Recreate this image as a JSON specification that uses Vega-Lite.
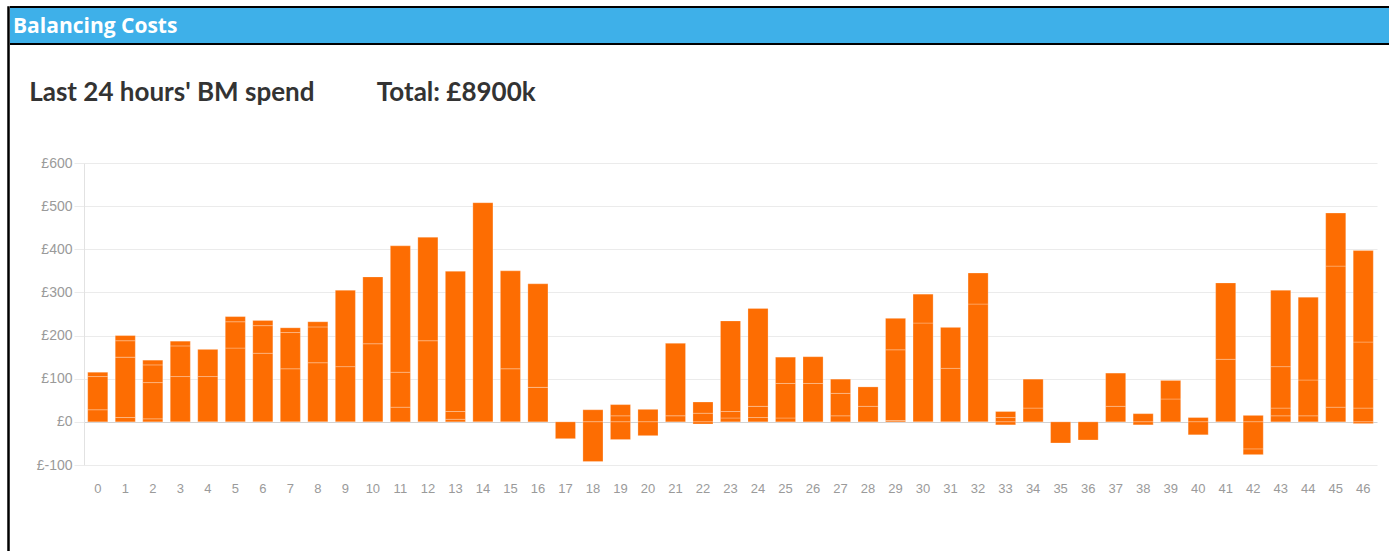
{
  "$schema": "https://vega.github.io/schema/vega-lite/v6.json",
  "background": "white",
  "padding": {"left": 7, "top": 6, "right": 0, "bottom": 0},
  "spacing": -3,
  "config": {"view": {"stroke": null}},
  "datasets": {
    "bm": [
      {"p":0,"s":1,"v":28},{"p":0,"s":2,"v":77},{"p":0,"s":3,"v":10},
      {"p":1,"s":1,"v":10},{"p":1,"s":2,"v":140},{"p":1,"s":3,"v":38},{"p":1,"s":4,"v":12},
      {"p":2,"s":1,"v":7},{"p":2,"s":2,"v":84},{"p":2,"s":3,"v":41},{"p":2,"s":4,"v":11},
      {"p":3,"s":1,"v":105},{"p":3,"s":2,"v":71},{"p":3,"s":3,"v":11},
      {"p":4,"s":1,"v":105},{"p":4,"s":2,"v":63},
      {"p":5,"s":1,"v":171},{"p":5,"s":2,"v":61},{"p":5,"s":3,"v":12},
      {"p":6,"s":1,"v":159},{"p":6,"s":2,"v":64},{"p":6,"s":3,"v":12},
      {"p":7,"s":1,"v":123},{"p":7,"s":2,"v":84},{"p":7,"s":3,"v":11},
      {"p":8,"s":1,"v":137},{"p":8,"s":2,"v":83},{"p":8,"s":3,"v":12},
      {"p":9,"s":1,"v":128},{"p":9,"s":2,"v":177},
      {"p":10,"s":1,"v":181},{"p":10,"s":2,"v":155},
      {"p":11,"s":1,"v":34},{"p":11,"s":2,"v":81},{"p":11,"s":3,"v":293},
      {"p":12,"s":1,"v":188},{"p":12,"s":2,"v":240},
      {"p":13,"s":1,"v":6},{"p":13,"s":2,"v":18},{"p":13,"s":3,"v":325},
      {"p":14,"s":1,"v":508},
      {"p":15,"s":1,"v":123},{"p":15,"s":2,"v":227},
      {"p":16,"s":1,"v":80},{"p":16,"s":2,"v":240},
      {"p":17,"s":1,"v":-39},
      {"p":18,"s":1,"v":28},{"p":18,"s":2,"v":-92},
      {"p":19,"s":1,"v":14},{"p":19,"s":2,"v":26},{"p":19,"s":3,"v":-41},
      {"p":20,"s":1,"v":29},{"p":20,"s":2,"v":-32},
      {"p":21,"s":1,"v":14},{"p":21,"s":2,"v":168},
      {"p":22,"s":1,"v":20},{"p":22,"s":2,"v":26},{"p":22,"s":3,"v":-5},
      {"p":23,"s":1,"v":9},{"p":23,"s":2,"v":15},{"p":23,"s":3,"v":210},
      {"p":24,"s":1,"v":10},{"p":24,"s":2,"v":26},{"p":24,"s":3,"v":227},
      {"p":25,"s":1,"v":9},{"p":25,"s":2,"v":80},{"p":25,"s":3,"v":61},
      {"p":26,"s":1,"v":89},{"p":26,"s":2,"v":62},
      {"p":27,"s":1,"v":14},{"p":27,"s":2,"v":52},{"p":27,"s":3,"v":33},
      {"p":28,"s":1,"v":36},{"p":28,"s":2,"v":45},
      {"p":29,"s":1,"v":3},{"p":29,"s":2,"v":164},{"p":29,"s":3,"v":73},
      {"p":30,"s":1,"v":229},{"p":30,"s":2,"v":67},
      {"p":31,"s":1,"v":124},{"p":31,"s":2,"v":95},
      {"p":32,"s":1,"v":273},{"p":32,"s":2,"v":72},
      {"p":33,"s":1,"v":10},{"p":33,"s":2,"v":14},{"p":33,"s":3,"v":-7},
      {"p":34,"s":1,"v":32},{"p":34,"s":2,"v":67},
      {"p":35,"s":1,"v":-49},
      {"p":36,"s":1,"v":-42},
      {"p":37,"s":1,"v":36},{"p":37,"s":2,"v":77},
      {"p":38,"s":1,"v":19},{"p":38,"s":2,"v":-7},
      {"p":39,"s":1,"v":53},{"p":39,"s":2,"v":43},
      {"p":40,"s":1,"v":10},{"p":40,"s":2,"v":-30},
      {"p":41,"s":1,"v":145},{"p":41,"s":2,"v":177},
      {"p":42,"s":1,"v":15},{"p":42,"s":2,"v":-63},{"p":42,"s":3,"v":-13},
      {"p":43,"s":1,"v":14},{"p":43,"s":2,"v":18},{"p":43,"s":3,"v":96},{"p":43,"s":4,"v":177},
      {"p":44,"s":1,"v":14},{"p":44,"s":2,"v":83},{"p":44,"s":3,"v":192},
      {"p":45,"s":1,"v":34},{"p":45,"s":2,"v":327},{"p":45,"s":3,"v":123},
      {"p":46,"s":1,"v":32},{"p":46,"s":2,"v":153},{"p":46,"s":3,"v":212},{"p":46,"s":4,"v":-4}
    ],
    "hdr": [{"t": "Balancing Costs"}]
  },
  "hconcat": [
    {
      "width": 1,
      "height": 544,
      "view": {"stroke": "#000000", "strokeWidth": 1.5, "fill": null},
      "data": {"name": "hdr"},
      "mark": {"type": "text", "opacity": 0},
      "encoding": {}
    },
    {
      "spacing": 0,
      "vconcat": [
        {
          "width": 1381,
          "height": 37,
          "view": {"fill": "#3eb0e9", "stroke": null},
          "data": {"name": "hdr"},
          "layer": [
            {
              "mark": {"type": "rule", "color": "#000000", "strokeWidth": 2},
              "encoding": {"y": {"datum": 0, "type": "quantitative", "scale": {"domain": [0, 1], "nice": false}, "axis": null}}
            },
            {
              "mark": {"type": "rule", "color": "#000000", "strokeWidth": 2},
              "encoding": {"y": {"datum": 1, "type": "quantitative"}}
            },
            {
              "mark": {"type": "text", "align": "left", "baseline": "middle", "dx": 3, "dy": 1, "color": "#ffffff", "font": "Open Sans", "fontSize": 21, "fontWeight": "bold"},
              "encoding": {
                "x": {"datum": 0, "type": "quantitative", "scale": {"domain": [0, 1], "nice": false}, "axis": null},
                "y": {"datum": 0.5, "type": "quantitative"},
                "text": {"field": "t"}
              }
            }
          ]
        },
        {
          "spacing": 18,
          "hconcat": [
            {
              "width": 1,
              "height": 1,
              "data": {"name": "hdr"},
              "mark": {"type": "text", "opacity": 0},
              "encoding": {}
            },
            {
              "width": 1293,
              "height": 302,
              "title": {
                "text": ["", "Last 24 hours' BM spend\u00a0\u00a0\u00a0\u00a0\u00a0\u00a0\u00a0\u00a0\u00a0\u00a0Total: £8900k"],
                "anchor": "start",
                "lineHeight": 35,
                "offset": 50,
                "dx": -7,
                "font": "Lato",
                "fontSize": 26,
                "fontWeight": "bold",
                "color": "#333333"
              },
              "data": {"name": "bm"},
              "mark": {"type": "bar", "color": "#fd6d02", "stroke": "#ffffff", "strokeOpacity": 0.25, "strokeWidth": 1},
              "encoding": {
                "x": {
                  "field": "p", "type": "ordinal",
                  "scale": {"paddingInner": 0.27, "paddingOuter": 0.135},
                  "axis": {"title": null, "labelAngle": 0, "ticks": false, "domain": false, "labelPadding": 17, "labelFont": "Liberation Sans", "labelFontSize": 13, "labelColor": "#9a9a9a"}
                },
                "y": {
                  "field": "v", "type": "quantitative", "stack": "zero",
                  "scale": {"domain": [-100, 600], "nice": false},
                  "axis": {
                    "title": null,
                    "values": [-100, 0, 100, 200, 300, 400, 500, 600],
                    "labelExpr": "'£' + datum.value",
                    "grid": true,
                    "gridColor": {"condition": {"test": "datum.value === 0", "value": "#d2d2d2"}, "value": "#ebebeb"},
                    "domainColor": "#e2e2e2",
                    "tickColor": "#ebebeb",
                    "tickSize": 10,
                    "labelPadding": 2,
                    "labelFont": "Liberation Sans",
                    "labelFontSize": 14,
                    "labelColor": "#9a9a9a"
                  }
                },
                "detail": {"field": "s"},
                "order": {"field": "s", "type": "quantitative"}
              }
            }
          ]
        }
      ]
    }
  ]
}
